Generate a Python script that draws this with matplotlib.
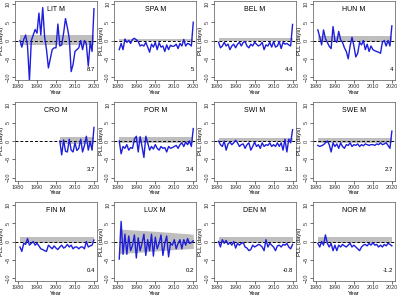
import numpy as np
import matplotlib.pyplot as plt

plt.rcParams['font.family'] = ['Liberation Sans', 'DejaVu Sans']

# PLL anomalies (days), 1981-2020 (CRO from 2002)
years = np.arange(1981, 2021)
cro_years = np.arange(2002, 2021)

lit = [0.0, -1.8, 0.3, 1.5, -1.5, -11.0, 0.0, 1.5, 3.0, 2.0, 7.5, 1.5, 9.0, 1.0, -2.5, -7.5, -5.0, -2.5, -2.0, -2.0,
       4.5, -1.5, -1.2, 2.0, 6.0, 3.5, 0.5, -8.5, -6.5, -3.0, -2.5, -2.0, 0.0, -2.5, 0.0, -1.0, -7.0, -0.5, -3.0, 8.7]
spa = [-2.5, -0.8, -2.5, 0.4, -0.5, 0.0, -0.8, 0.3, 0.6, 0.2, -0.3, -1.5, -1.2, -1.5, -0.5, -1.8, -3.2, -1.0, -1.8, -0.5,
       -2.5, -0.6, -1.8, -1.5, -3.0, -1.2, -2.5, -1.3, -1.6, -1.5, -1.0, -2.2, -0.8, -1.5, 0.3, -1.5, -0.8, -1.0, -1.5, 5.0]
bel = [-0.5, -2.0, -1.5, -0.5, -1.5, -1.0, -2.5, -1.5, -1.0, -2.0, -1.0, -0.5, -1.5, -0.5, -0.3, -1.5, -2.0, -1.0, -1.5, -0.5,
       -1.0, -1.5, -1.2, -0.5, -2.5, -1.2, -1.5, -0.5, -1.8, -0.3, -1.8, -1.5, -0.3, -2.2, -0.5, -1.0, -0.8, -1.2, -1.5, 4.4]
hun = [2.9, 1.0, -1.2, 2.9, 0.5, -0.5, -1.6, -2.2, 3.8, 0.0, -0.5, 2.5, 0.2, -0.5, -2.0, -3.0, -5.0, -1.5, 0.9, -1.5,
       -4.5, -3.5, -0.5, -1.2, 0.0, -2.5, -1.0, -3.0, -1.5, -2.5, -2.8, -3.0, -3.2, -3.5, -0.5, 0.0, -1.5, 0.0, -1.5, 4.0]
cro = [0.0, -3.8, 0.3, -2.8, -3.0, 0.5, -2.5, -3.0, -0.5, -2.6, -2.0, 0.5, -3.0, -1.2, 1.3, -2.5, -0.2, -2.5, 3.7]
por = [0.0, -3.5, -1.5, -2.0, -1.0, -2.5, -1.8, -2.0, 0.5, 1.3, -3.0, 1.2, -1.5, -4.5, 1.3, -0.5, -2.5, -1.5, -2.2, -1.0,
       -2.0, -2.5, -1.5, -2.0, -1.8, -3.0, -1.5, -2.0, -1.8, -1.5, -1.2, -2.0, -1.0, -0.5, -1.5, -0.3, -1.0, 0.0, -1.5, 3.4]
swi = [0.0, -1.0, -1.5, 0.0, -2.5, -0.8, -0.3, -1.0, -0.5, 0.2, -0.5, -1.5, -1.0, -0.8, -2.0, -1.0, -0.5, -2.5, -1.5, -0.3,
       -1.5, -1.0, -2.0, -0.5, -1.5, -1.0, -1.2, -0.5, -1.5, -1.0, -1.5, -0.5, -1.5, -0.5, -2.5, 0.5, -3.0, 0.5, -0.5, 3.1]
swe = [-1.2, -1.5, -1.3, -1.0, -0.5, 0.0, -1.0, -3.0, -0.5, -1.5, -0.8, -2.0, -0.5, -1.5, -2.0, -1.0, -1.2, -0.5, -1.5, -1.0,
       -1.2, -0.8, -1.5, -1.0, -1.3, -0.8, -1.0, -1.2, -1.0, -1.0, -1.2, -0.8, -1.0, -0.5, -1.0, -0.8, -0.5, -1.2, -2.0, 2.7]
fin = [-1.5, -2.7, -0.5, -0.8, 0.8, -1.0, -0.5, 0.0, -1.0, -0.5, -1.2, -2.0, -2.2, -2.5, -2.7, -1.0, -1.5, -2.0, -1.2, -1.8,
       -2.2, -1.5, -1.0, -1.8, -1.5, -0.8, -1.5, -1.0, -2.0, -1.5, -1.5, -2.0, -1.5, -1.5, -2.0, 0.0, -1.5, -1.2, -1.0, 0.4]
lux = [-4.8, 5.5, -3.5, 2.0, -3.5, 1.5, -2.5, -1.0, 1.8, -4.5, 1.0, -2.5, -0.5, 2.0, -3.8, 0.5, -2.5, 2.0, -4.0, 1.2,
       -2.0, -0.5, 1.8, -3.8, -0.5, 1.5, -4.2, -0.5, -1.0, 0.5, -2.0, -0.5, 0.5, -2.0, 0.5, -1.0, 0.8, -0.5, -0.3, 0.2]
den = [0.0, -1.5, 0.5, -0.5, 0.3, -0.8, -0.3, -1.0, 0.0, -1.8, -0.5, -1.0, -0.5, -0.3, -1.5, -1.8, -2.5, -2.2, -1.0, -1.5,
       -1.2, -0.8, -1.0, -1.5, -2.5, 0.5, -1.5, -0.5, -1.0, -1.5, -2.5, -1.2, -1.0, -1.5, -0.8, -1.0, -0.5, -1.5, -2.0, -0.8]
nor = [-0.5, -1.5, 0.0, -1.0, 1.8, -0.5, -1.5, -0.5, -2.5, -1.0, -2.5, -1.0, -1.5, -0.8, -1.2, -1.5, -1.0, -0.5, -1.5, -1.0,
       -1.5, -2.0, -2.5, -1.5, -1.0, -0.8, -1.2, -0.5, -1.0, -0.3, -1.0, -0.8, -1.5, -1.0, -1.5, -0.8, -1.2, -0.5, -0.8, -1.2]

titles = ['LIT M', 'SPA M', 'BEL M', 'HUN M', 'CRO M', 'POR M',
          'SWI M', 'SWE M', 'FIN M', 'LUX M', 'DEN M', 'NOR M']
end_labels = ['8.7', '5', '4.4', '4', '3.7', '3.4', '3.1', '2.7', '0.4', '0.2', '-0.8', '-1.2']
series = [lit, spa, bel, hun, cro, por, swi, swe, fin, lux, den, nor]

# grey reference band (constant lower/upper), LUX band narrows over time
band_lo = [-1.2, -0.2, -0.2, -0.5, -0.9, -0.55, -0.3, -0.5, -0.45, None, -0.3, -0.3]
band_hi = [1.4, 0.3, 0.8, 1.1, 1.1, 1.1, 0.8, 0.9, 1.1, None, 1.1, 1.1]
lux_band_years = [1981, 1990, 2000, 2010, 2020]
lux_band_hi = [3.4, 3.1, 2.8, 2.4, 2.0]
lux_band_lo = [-3.3, -3.0, -2.6, -2.2, -1.9]

fig = plt.figure(figsize=(4, 2.98), dpi=100)

for i, name in enumerate(titles):
    r, c = divmod(i, 4)
    left = (15 + 99.3 * c) / 400
    bottom = (298 - (1 + 100.5 * r) - 79) / 298
    ax = fig.add_axes([left, bottom, 82 / 400, 79 / 298])

    x = cro_years if name == 'CRO M' else years
    if name == 'LUX M':
        ax.fill_between(lux_band_years, lux_band_lo, lux_band_hi, color='#BEBEBE', lw=0)
    else:
        ax.fill_between([x[0], x[-1]], band_lo[i], band_hi[i], color='#BEBEBE', lw=0)
    ax.axhline(0, color='black', lw=0.7, ls=(0, (3, 2)))
    ax.plot(x, series[i], color='#1E1EDC', lw=1.0)

    ax.text(2000, 8.4, name, ha='center', va='center', fontsize=5)
    ax.text(2020.5, -7.8, end_labels[i], ha='right', va='center', fontsize=4.3)

    ax.set_xlim(1978.4, 2021.6)
    ax.set_ylim(-10.8, 10.8)
    ax.set_xticks([1980, 1990, 2000, 2010, 2020])
    ax.set_yticks([-10, -5, 0, 5, 10])
    ax.tick_params(length=2, width=0.5, pad=1, labelsize=4, colors='#333333')
    for lab in ax.get_yticklabels():
        lab.set_rotation(90)
        lab.set_va('center')
    for s in ax.spines.values():
        s.set_linewidth(0.5)
        s.set_color('#555555')
    ax.set_xlabel('Year', fontsize=4.2, labelpad=0.5)
    ax.set_ylabel('PLL (days)', fontsize=4.2, labelpad=1)

fig.savefig('out.png', dpi=100)
